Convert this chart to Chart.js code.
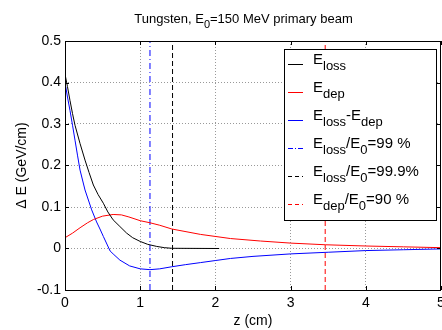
<!DOCTYPE html>
<html>
<head>
<meta charset="utf-8">
<script src="https://cdn.jsdelivr.net/npm/chart.js@4"></script>
<style>
html, body { margin: 0; padding: 0; background: #fff; }
canvas { display: block; }
</style>
</head>
<body>
<canvas id="chart" width="442" height="330"></canvas>
<script>
// energy loss (black)
const zLoss = [0, 0.033, 0.066, 0.1, 0.133, 0.2, 0.266, 0.32, 0.377, 0.44, 0.51, 0.57, 0.64, 0.73, 0.82, 0.9, 1.0, 1.1, 1.22, 1.32, 1.42, 2.05];
const eLoss = [0.42, 0.39, 0.357, 0.325, 0.297, 0.253, 0.213, 0.183, 0.153, 0.13, 0.109, 0.088, 0.069, 0.053, 0.037, 0.026, 0.017, 0.010, 0.005, 0.002, 0.0005, 0.0];

// deposited energy (red)
const zDep = [0, 0.1, 0.2, 0.3, 0.38, 0.5, 0.64, 0.75, 0.85, 1.0, 1.13, 1.26, 1.42, 1.8, 2.2, 2.6, 3.0, 3.46, 4.0, 4.5, 5.0];
const eDep = [0.026, 0.037, 0.05, 0.062, 0.07, 0.078, 0.082, 0.081, 0.076, 0.067, 0.062, 0.056, 0.047, 0.034, 0.024, 0.018, 0.013, 0.009, 0.006, 0.004, 0.002];

// loss minus deposit (blue)
const zDiff = [0, 0.033, 0.066, 0.1, 0.133, 0.166, 0.2, 0.266, 0.355, 0.42, 0.465, 0.51, 0.6, 0.64, 0.73, 0.86, 1.0, 1.13, 1.26, 1.42, 1.6, 1.8, 2.0, 2.2, 2.5, 3.0, 3.5, 4.0, 4.5, 5.0];
const eDiff = [0.40, 0.365, 0.333, 0.297, 0.261, 0.225, 0.189, 0.141, 0.093, 0.064, 0.047, 0.029, -0.006, -0.013, -0.028, -0.042, -0.049, -0.051, -0.049, -0.044, -0.039, -0.034, -0.029, -0.024, -0.019, -0.013, -0.009, -0.005, -0.003, -0.001];

// vertical markers: Eloss/E0=99 %, Eloss/E0=99.9 %, Edep/E0=90 %
const zMarkers = [1.13, 1.43, 3.46];

const xTicks = [0, 1, 2, 3, 4, 5];
const yTicks = [-0.1, 0, 0.1, 0.2, 0.3, 0.4, 0.5];

const titleText = "Tungsten, E_{0}=150 MeV primary beam";
const legendLabels = [
  "E_{loss}",
  "E_{dep}",
  "E_{loss}-E_{dep}",
  "E_{loss}/E_{0}=99 %",
  "E_{loss}/E_{0}=99.9%",
  "E_{dep}/E_{0}=90 %"
];

const FONT = '"Liberation Sans", Arial, sans-serif';
const BLUE = "#0000ff";
const RED = "#ff0000";
const BLACK = "#000000";

const pts = (zs, vs) => zs.map((z, i) => ({ x: z, y: vs[i] }));
const vline = (z) => [{ x: z, y: yTicks[0] }, { x: z, y: yTicks[yTicks.length - 1] }];

const legendStyles = [
  { color: BLACK, dash: [] },
  { color: RED, dash: [] },
  { color: BLUE, dash: [] },
  { color: BLUE, dash: [5, 2, 1, 2] },
  { color: BLACK, dash: [4, 3] },
  { color: RED, dash: [4, 3] }
];

function drawRich(ctx, text, x, y, size, subSize, align) {
  const parts = text.split(/_\{([^}]*)\}/);
  const segs = parts.map((t, i) => ({ t, sub: i % 2 === 1 }));
  let total = 0;
  segs.forEach(s => {
    ctx.font = (s.sub ? subSize : size) + "px " + FONT;
    s.w = ctx.measureText(s.t).width;
    total += s.w;
  });
  let cx = align === "center" ? x - total / 2 : x;
  ctx.textAlign = "left";
  ctx.textBaseline = "alphabetic";
  segs.forEach(s => {
    ctx.font = (s.sub ? subSize : size) + "px " + FONT;
    ctx.fillText(s.t, cx, s.sub ? y + Math.round(size * 0.4) : y);
    cx += s.w;
  });
}

const decorPlugin = {
  id: "decor",
  afterDraw(chart) {
    const { ctx, chartArea: a, scales } = chart;
    ctx.save();
    // frame
    ctx.strokeStyle = BLACK;
    ctx.lineWidth = 1;
    ctx.setLineDash([]);
    ctx.strokeRect(a.left + 0.5, a.top + 0.5, a.right - a.left - 1, a.bottom - a.top);
    // inward ticks
    ctx.beginPath();
    xTicks.forEach(t => {
      const px = Math.round(scales.x.getPixelForValue(t)) + 0.5;
      ctx.moveTo(px, a.bottom); ctx.lineTo(px, a.bottom - 4);
      ctx.moveTo(px, a.top); ctx.lineTo(px, a.top + 4);
    });
    yTicks.forEach(t => {
      const py = Math.round(scales.y.getPixelForValue(t)) + 0.5;
      ctx.moveTo(a.left, py); ctx.lineTo(a.left + 4, py);
      ctx.moveTo(a.right, py); ctx.lineTo(a.right - 4, py);
    });
    ctx.stroke();

    // title
    ctx.fillStyle = BLACK;
    drawRich(ctx, titleText, 243.5, 23, 13, 11, "center");

    // legend
    const bx = 284.5, by = 49.5, bw = 152, bh = 171;
    ctx.fillStyle = "#fff";
    ctx.fillRect(bx, by, bw, bh);
    ctx.strokeStyle = BLACK;
    ctx.strokeRect(bx, by, bw, bh);
    const rowY = [64, 92, 120, 148, 176, 204];
    legendLabels.forEach((lab, i) => {
      const st = legendStyles[i];
      ctx.strokeStyle = st.color;
      ctx.setLineDash(st.dash);
      ctx.beginPath();
      ctx.moveTo(288, rowY[i] + 0.5);
      ctx.lineTo(303, rowY[i] + 0.5);
      ctx.stroke();
      ctx.setLineDash([]);
      ctx.fillStyle = BLACK;
      drawRich(ctx, lab, 313, rowY[i], 15, 13, "left");
    });
    ctx.restore();
  }
};

const hideEdges = (lo, hi) => (c) => {
  if (!c.tick) return "#999";
  const v = c.tick.value;
  return (Math.abs(v - lo) < 1e-9 || Math.abs(v - hi) < 1e-9) ? "rgba(0,0,0,0)" : "#999";
};

new Chart(document.getElementById("chart").getContext("2d"), {
  type: "line",
  data: {
    datasets: [
      { label: "E_loss", data: pts(zLoss, eLoss), borderColor: BLACK, borderWidth: 1 },
      { label: "E_dep", data: pts(zDep, eDep), borderColor: RED, borderWidth: 1 },
      { label: "E_loss-E_dep", data: pts(zDiff, eDiff), borderColor: BLUE, borderWidth: 1 },
      { label: "99 %", data: vline(zMarkers[0]), borderColor: BLUE, borderWidth: 1, borderDash: [6, 3, 1, 3] },
      { label: "99.9 %", data: vline(zMarkers[1]), borderColor: BLACK, borderWidth: 1, borderDash: [5, 3] },
      { label: "90 %", data: vline(zMarkers[2]), borderColor: RED, borderWidth: 1, borderDash: [5, 3] }
    ]
  },
  options: {
    responsive: false,
    animation: false,
    devicePixelRatio: 1,
    layout: { padding: { left: 0, top: 41, right: 1, bottom: 0 } },
    elements: { point: { radius: 0 }, line: { tension: 0, fill: false } },
    plugins: { legend: { display: false }, title: { display: false }, tooltip: { enabled: false } },
    scales: {
      x: {
        type: "linear",
        min: 0,
        max: 5,
        afterBuildTicks: (s) => { s.ticks = xTicks.map(v => ({ value: v })); },
        afterFit: (s) => { s.height = 40; s.paddingLeft = 0; s.paddingRight = 0; },
        ticks: { color: BLACK, font: { family: FONT, size: 14 }, padding: 5, maxRotation: 0, callback: (v) => String(v) },
        grid: { color: hideEdges(0, 5), drawTicks: false, lineWidth: 1 },
        border: { display: false, dash: [1, 2] },
        title: { display: true, text: "z (cm)", color: BLACK, font: { family: FONT, size: 14 }, padding: { top: 0, bottom: 0 } }
      },
      y: {
        type: "linear",
        min: -0.1,
        max: 0.5,
        afterBuildTicks: (s) => { s.ticks = yTicks.map(v => ({ value: v })); },
        afterFit: (s) => { s.width = 65; s.paddingTop = 0; s.paddingBottom = 0; },
        ticks: { color: BLACK, font: { family: FONT, size: 14 }, padding: 4, callback: (v) => Math.abs(v) < 1e-9 ? "0" : v.toFixed(1) },
        grid: { color: hideEdges(-0.1, 0.5), drawTicks: false, lineWidth: 1 },
        border: { display: false, dash: [1, 2] },
        title: { display: true, text: "Δ E (GeV/cm)", color: BLACK, font: { family: FONT, size: 14 }, padding: { top: 14, bottom: 0 } }
      }
    }
  },
  plugins: [decorPlugin]
});
</script>
</body>
</html>
